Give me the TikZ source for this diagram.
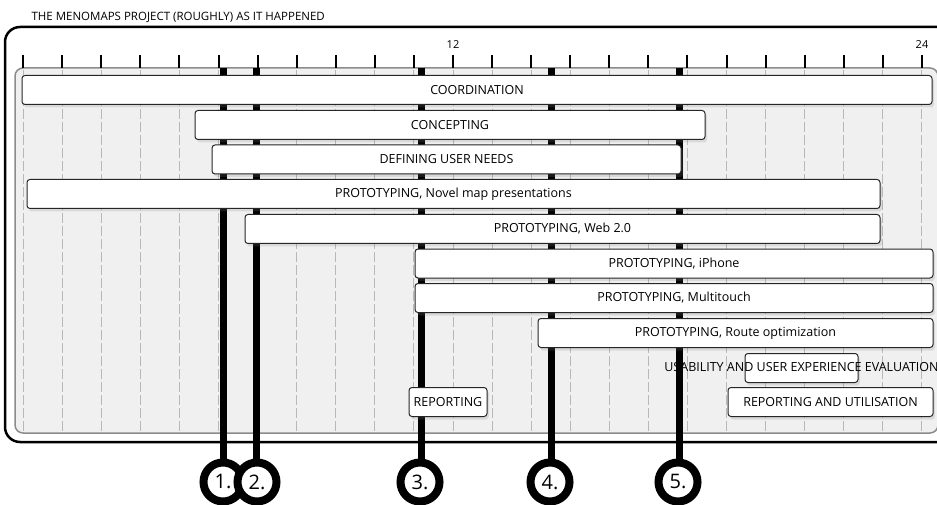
\documentclass[tikz,border=0pt]{standalone}
\usepackage{fontspec}
\setmainfont{Open Sans}
\usetikzlibrary{shadows}

\tikzset{
  bar/.style={draw=black!85, line width=1pt, fill=white, rounded corners=3pt,
    minimum height=29pt, inner sep=0pt, font=\fontsize{12.5}{14}\selectfont,
    drop shadow={shadow xshift=2pt, shadow yshift=-3pt, opacity=0.2}},
  milestone/.style={circle, draw, line width=8pt, fill=white, minimum size=39pt,
    inner sep=0pt, outer sep=0pt, font=\fontsize{20}{24}\selectfont},
  mline/.style={line width=7pt},
  gridline/.style={black!28, line width=1pt, dash pattern=on 10pt off 3pt},
}

\begin{document}
\begin{tikzpicture}[x=1pt,y=-1pt]
  \useasboundingbox (0,0) rectangle (937,505);
  \clip (0,0) rectangle (937,505);
  \node[anchor=west, font=\fontsize{11.5}{13}\selectfont] (title) at (28,17) {THE MENOMAPS PROJECT (ROUGHLY) AS IT HAPPENED};
  % frame and panel
  \draw[line width=2.5pt, rounded corners=15pt] (5,27) rectangle (990,442);
  \draw[draw=black!45, line width=1.5pt, fill=black!6, rounded corners=8pt] (15,68) rectangle (938,433);
  % months
  \foreach \m in {1,...,24} {
    \draw[gridline] (453+39.08*\m-468.96, 70) -- (453+39.08*\m-468.96, 432);
    \draw[line width=2pt] (453+39.08*\m-468.96, 55) -- (453+39.08*\m-468.96, 68);
  }
  \node[font=\fontsize{11}{13}\selectfont] (m12) at (453,45) {12};
  \node[font=\fontsize{11}{13}\selectfont] (m24) at (922,45) {24};
  % milestones
  \node[milestone] (c1) at (223,482) {1.};
  \node[milestone] (c2) at (257,482) {2.};
  \node[milestone] (c3) at (420,482) {3.};
  \node[milestone] (c4) at (550,482) {4.};
  \node[milestone] (c5) at (678,482) {5.};
  \coordinate (t1) at (223,68);
  \coordinate (t2) at (256,68);
  \coordinate (t3) at (421,68);
  \coordinate (t4) at (551,68);
  \coordinate (t5) at (679,68);
  \foreach \i in {1,...,5}
    \draw[mline] (t\i) -- (t\i |- c\i.north);
  % activities
  \node[bar, minimum width=910pt] (coord) at (477,90) {COORDINATION};
  \node[bar, minimum width=510pt] (concept) at (450,125) {CONCEPTING};
  \node[bar, minimum width=469pt] (needs) at (446.5,159.5) {DEFINING USER NEEDS};
  \node[bar, minimum width=853pt] (novel) at (453.5,194) {PROTOTYPING, Novel map presentations};
  \node[bar, minimum width=635pt] (web) at (562.5,229) {PROTOTYPING, Web 2.0};
  \node[bar, minimum width=518pt] (iphone) at (674,263.5) {PROTOTYPING, iPhone};
  \node[bar, minimum width=518pt] (touch) at (674,298) {PROTOTYPING, Multitouch};
  \node[bar, minimum width=395pt] (route) at (735.5,333) {PROTOTYPING, Route optimization};
  \node[bar, minimum width=113pt] (ux) at (801.5,368) {};
  \node[font=\fontsize{12.5}{14}\selectfont] (uxtext) at (801.5,367) {USABILITY AND USER EXPERIENCE EVALUATION};
  \node[bar, minimum width=78pt] (report) at (448,402) {REPORTING};
  \node[bar, minimum width=205pt] (util) at (830.5,402) {REPORTING AND UTILISATION};
\end{tikzpicture}
\end{document}
